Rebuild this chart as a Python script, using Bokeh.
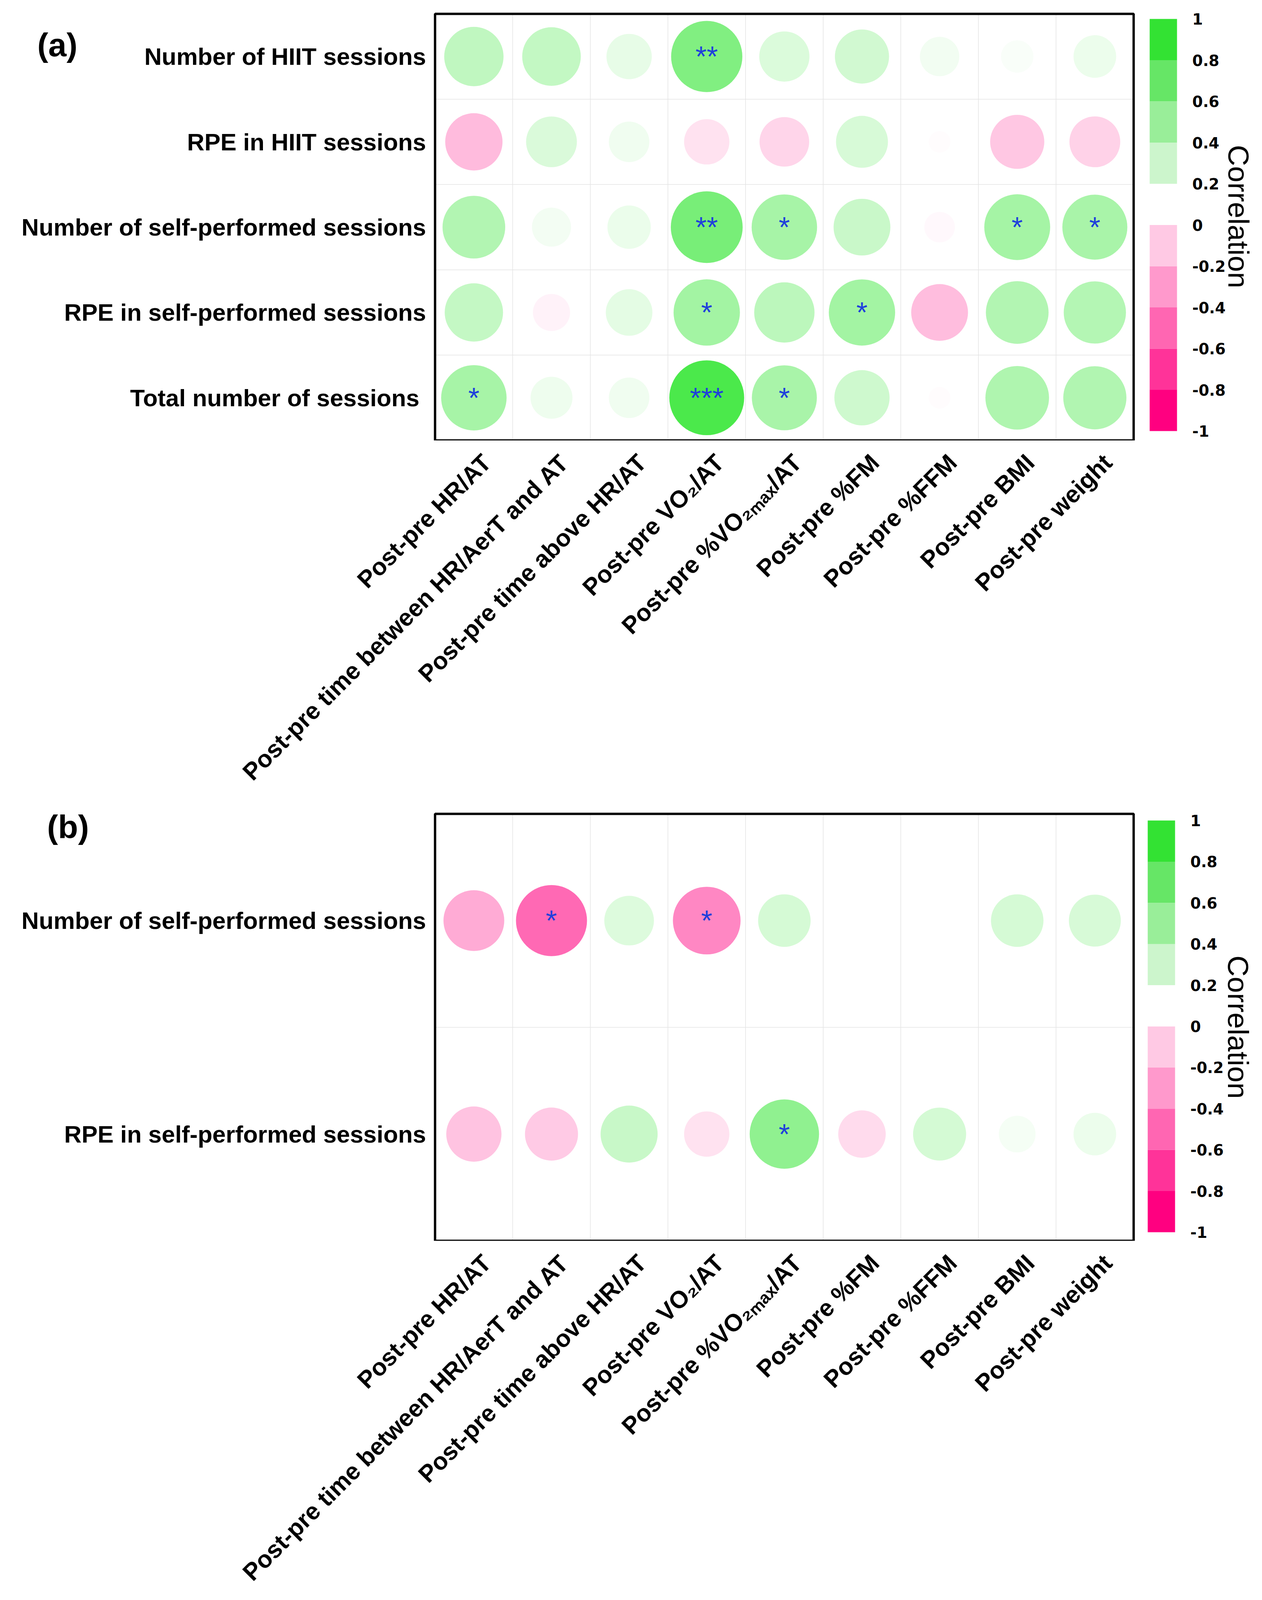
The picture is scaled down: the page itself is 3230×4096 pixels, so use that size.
import math
import numpy as np
from bokeh.plotting import figure
from bokeh.models import Range1d, FixedTicker, ColumnDataSource
from bokeh.layouts import column
from bokeh.transform import linear_cmap
from bokeh.core.properties import value
from bokeh.embed import file_html
from bokeh.resources import INLINE

# ---------------- data ----------------
x_labels = ["Post-pre HR/AT", "Post-pre time between HR/AerT and AT",
            "Post-pre time above HR/AT", "Post-pre VO\u2082/AT",
            "Post-pre %VO\u2082\u2098\u2090\u2093/AT", "Post-pre %FM",
            "Post-pre %FFM", "Post-pre BMI", "Post-pre weight"]

rows_a = ["Number of HIIT sessions", "RPE in HIIT sessions",
          "Number of self-performed sessions", "RPE in self-performed sessions",
          "Total  number of sessions"]
corr_a_r1 = [0.60, 0.585, 0.35, 0.865, 0.43, 0.50, 0.265, 0.18, 0.31]
corr_a_r2 = [-0.56, 0.44, 0.28, -0.35, -0.42, 0.46, -0.08, -0.50, -0.44]
corr_a_r3 = [0.67, 0.26, 0.32, 0.88, 0.73, 0.55, -0.16, 0.74, 0.72]
corr_a_r4 = [0.58, -0.235, 0.37, 0.75, 0.62, 0.75, -0.55, 0.67, 0.66]
corr_a_r5 = [0.73, 0.30, 0.28, 0.955, 0.72, 0.52, -0.08, 0.69, 0.68]
sig_a_r1 = ["", "", "", "**", "", "", "", "", ""]
sig_a_r2 = ["", "", "", "", "", "", "", "", ""]
sig_a_r3 = ["", "", "", "**", "*", "", "", "*", "*"]
sig_a_r4 = ["", "", "", "*", "", "*", "", "", ""]
sig_a_r5 = ["*", "", "", "***", "*", "", "", "", ""]

rows_b = ["Number of self-performed sessions", "RPE in self-performed sessions"]
corr_b_r1 = [-0.63, -0.86, 0.42, -0.78, 0.47, None, None, 0.47, 0.46]
corr_b_r2 = [-0.52, -0.48, 0.555, -0.35, 0.82, -0.385, 0.48, 0.23, 0.31]
sig_b_r1 = ["", "*", "", "*", "", "", "", "", ""]
sig_b_r2 = ["", "", "", "", "*", "", "", "", ""]

cb_ticks = [-1.0, -0.8, -0.6, -0.4, -0.2, 0.0, 0.2, 0.4, 0.6, 0.8, 1.0]
cb_tick_labels = ["-1", "-0.8", "-0.6", "-0.4", "-0.2", "0", "0.2", "0.4", "0.6", "0.8", "1"]
cb_bin_colors = ["#FF0080", "#FF3399", "#FF66B2", "#FF99CC", "#FFC9E4",
                 "#FFFFFF", "#CCF5CC", "#99EE99", "#66E666", "#33E233"]

# ---------------- styling ----------------
FONT = "Liberation Sans"
GREEN_END = (46, 229, 46)
PINK_END = (255, 0, 128)
stop_r = [0, 0.18, 0.265, 0.35, 0.5, 0.6, 0.78, 0.86, 0.955, 1.0]
stop_t = [0, 0.03, 0.06, 0.115, 0.22, 0.30, 0.47, 0.59, 0.86, 1.0]
NPAL = 401
palette = []
for v in np.linspace(-1, 1, NPAL):
    t = float(np.interp(abs(v), stop_r, stop_t))
    end = GREEN_END if v >= 0 else PINK_END
    palette.append("#%02x%02x%02x" % tuple(int(round(255 + (e - 255) * t)) for e in end))

TOTAL_W = 3230
FRAME_LEFT = 1113          # left edge of the matrix box (px)
FRAME_W = 1788
NCOL = len(x_labels)
COLW = FRAME_W / NCOL
RMAX = 0.4934              # circle radius for |r| = 1, in column units
XLAB_DX = 33 / COLW        # shift of rotated labels' end
XLAB_STANDOFF = 46
CB_W = 70


def sx_to_x(sx):
    return 0.5 + (sx - FRAME_LEFT) / COLW


def make_panel(row_labels, corr_rows, sig_rows, frame_top, frame_h, fig_h,
               cb_sx, cb_top, cb_bottom, title_sx, title_sy, tag, tag_sx, tag_sy):
    n = len(row_labels)
    rowh = frame_h / n
    fb = frame_top + frame_h

    def sy_to_y(sy):
        return n + 0.5 - (sy - frame_top) / rowh

    xs, ys, rs, rads = [], [], [], []
    sx_, sy_, st_ = [], [], []
    for i, (cr, sr) in enumerate(zip(corr_rows, sig_rows)):
        for j, (c, s) in enumerate(zip(cr, sr)):
            if c is None:
                continue
            xs.append(j + 1)
            ys.append(n - i)
            rs.append(c)
            rads.append(RMAX * math.sqrt(abs(c)))
            if s:
                sx_.append(j + 1)
                sy_.append(n - i)
                st_.append(s)

    p = figure(frame_width=TOTAL_W, frame_height=fb,
               x_range=Range1d(sx_to_x(0), sx_to_x(TOTAL_W)),
               y_range=Range1d(0.5, sy_to_y(0)),
               min_border_left=0, min_border_right=0, min_border_top=0,
               min_border_bottom=fig_h - fb, y_axis_location=None, title=None,
               output_backend="svg", toolbar_location=None,
               background_fill_color="white", border_fill_color="white")
    p.grid.visible = False
    p.outline_line_color = None

    # cell grid
    gx = [k + 0.5 for k in range(1, NCOL)]
    p.segment(x0=gx, y0=[0.5] * len(gx), x1=gx, y1=[n + 0.5] * len(gx),
              line_color="#e4e4e4", line_width=1.5)
    gy = [k + 0.5 for k in range(1, n)]
    if gy:
        p.segment(x0=[0.5] * len(gy), y0=gy, x1=[NCOL + 0.5] * len(gy), y1=gy,
                  line_color="#e4e4e4", line_width=1.5)

    src = ColumnDataSource(dict(x=xs, y=ys, r=rs, rad=rads))
    p.circle(x="x", y="y", radius="rad", source=src,
             fill_color=linear_cmap("r", palette, -1, 1), line_color=None)

    ssrc = ColumnDataSource(dict(x=sx_, y=sy_, s=st_))
    p.text(x="x", y="y", text="s", source=ssrc, text_align="center",
           text_baseline="middle", y_offset=0, text_font=value(FONT),
           text_font_size="74px", text_color="#1f3fdc")

    # matrix box
    p.quad(left=[0.5], right=[NCOL + 0.5], bottom=[0.5], top=[n + 0.5],
           fill_color=None, line_color="black", line_width=6)

    # row labels
    yt = [float(n - i) for i in range(n)]
    p.text(x=[sx_to_x(FRAME_LEFT - 23)] * n, y=yt, text=row_labels,
           text_align="right", text_baseline="middle", text_font=value(FONT),
           text_font_size="61.5px", text_font_style="bold", text_color="black")

    # panel tag
    p.text(x=[sx_to_x(tag_sx)], y=[sy_to_y(tag_sy)], text=[tag],
           text_align="left", text_baseline="middle", text_font=value(FONT),
           text_font_size="84px", text_font_style="bold", text_color="black")

    # x axis with rotated labels
    xt = [k + 1 + XLAB_DX for k in range(NCOL)]
    ax = p.xaxis
    ax.ticker = FixedTicker(ticks=xt)
    ax.major_label_overrides = {t: lab for t, lab in zip(xt, x_labels)}
    ax.major_label_orientation = math.pi / 4
    ax.major_label_standoff = XLAB_STANDOFF
    ax.axis_line_color = None
    ax.major_tick_line_color = None
    ax.minor_tick_line_color = None
    ax.major_tick_out = 0
    ax.major_tick_in = 0
    ax.minor_tick_out = 0
    ax.minor_tick_in = 0
    ax.major_label_text_font = FONT
    ax.major_label_text_font_size = "62px"
    ax.major_label_text_font_style = "bold"
    ax.major_label_text_color = "black"

    # colour bar
    yb, ytp = sy_to_y(cb_bottom), sy_to_y(cb_top)

    def ycb(v):
        return yb + (v + 1) / 2 * (ytp - yb)

    nb = len(cb_bin_colors)
    p.quad(left=[sx_to_x(cb_sx)] * nb, right=[sx_to_x(cb_sx + CB_W)] * nb,
           bottom=[ycb(v) for v in cb_ticks[:-1]], top=[ycb(v) for v in cb_ticks[1:]],
           fill_color=cb_bin_colors, line_color=None)
    p.text(x=[sx_to_x(cb_sx + CB_W + 39)] * len(cb_ticks), y=[ycb(v) for v in cb_ticks],
           text=cb_tick_labels, text_align="left", text_baseline="middle",
           text_font=value("DejaVu Sans"), text_font_size="39px",
           text_font_style="bold", text_color="black")
    p.text(x=[sx_to_x(title_sx)], y=[sy_to_y(title_sy)], text=["Correlation"],
           angle=-math.pi / 2, text_align="center", text_baseline="middle",
           text_font=value(FONT), text_font_size="75px", text_color="black")
    return p


panel_a = make_panel(rows_a, [corr_a_r1, corr_a_r2, corr_a_r3, corr_a_r4, corr_a_r5],
                     [sig_a_r1, sig_a_r2, sig_a_r3, sig_a_r4, sig_a_r5],
                     frame_top=35, frame_h=1092, fig_h=2040,
                     cb_sx=2942, cb_top=48, cb_bottom=1103,
                     title_sx=3169, title_sy=554,
                     tag="(a)", tag_sx=95, tag_sy=114)
panel_b = make_panel(rows_b, [corr_b_r1, corr_b_r2], [sig_b_r1, sig_b_r2],
                     frame_top=43, frame_h=1093, fig_h=2056,
                     cb_sx=2937, cb_top=60, cb_bottom=1114,
                     title_sx=3168, title_sy=589,
                     tag="(b)", tag_sx=120, tag_sy=76)

layout = column(panel_a, panel_b)
open("out.html", "w").write(file_html(layout, INLINE))
